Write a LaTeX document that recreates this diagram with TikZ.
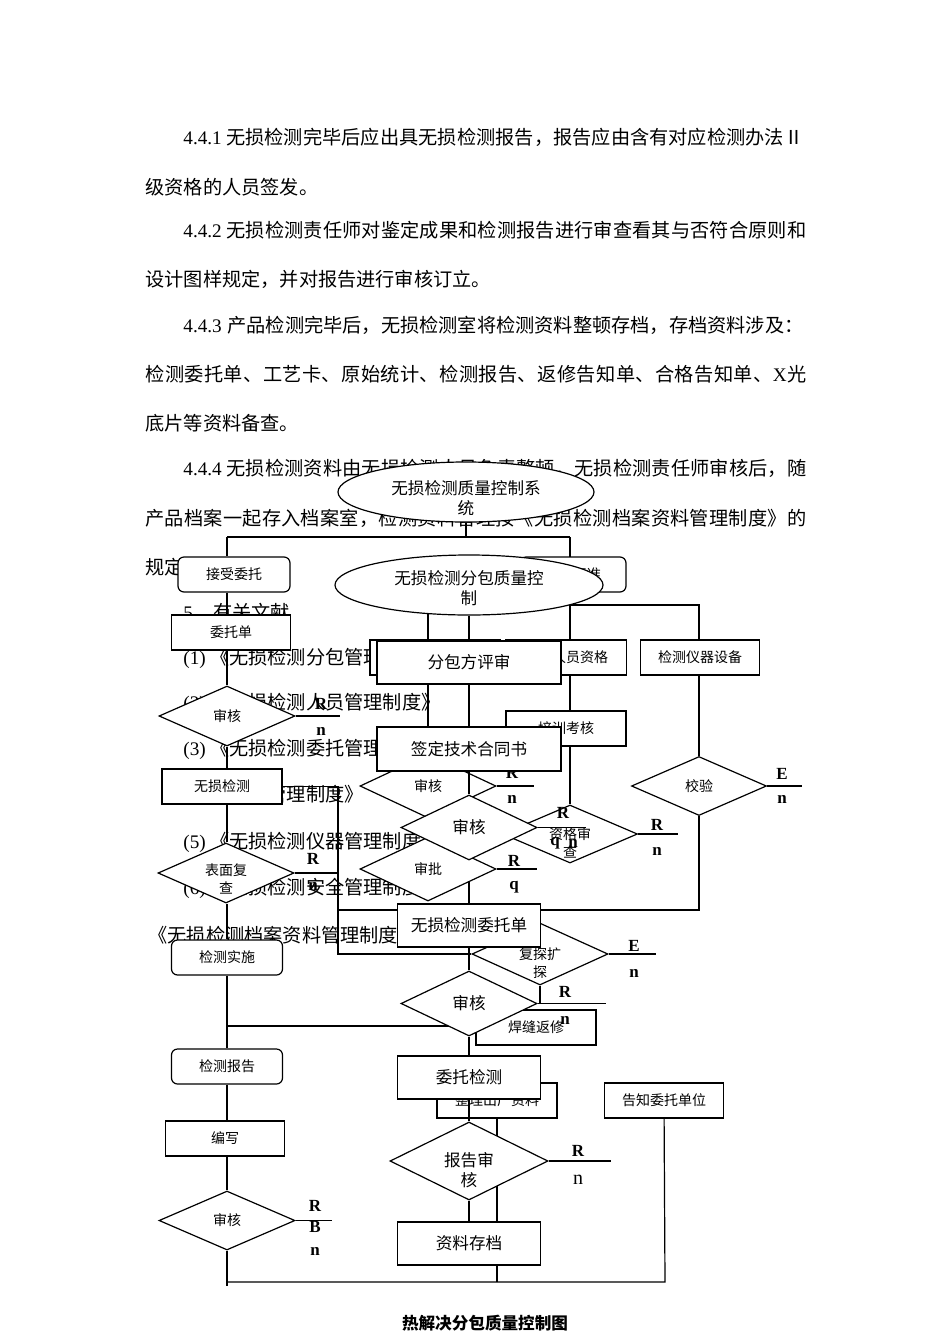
\documentclass[tikz,border=0pt]{standalone}
\usepackage{fontspec}
\setmainfont{Liberation Serif}
\newfontfamily\cjk{Noto Sans CJK SC}
\usetikzlibrary{shapes.geometric}
\pgfdeclarelayer{textlayer}
\pgfdeclarelayer{backnodes}
\pgfdeclarelayer{lines}
\pgfsetlayers{textlayer,backnodes,lines,main}
\newcommand\latf{\rmfamily}
\newcommand\bodyfont{\cjk\fontsize{9.6}{12}\selectfont}
\makeatletter
\def\sp@end{sp@end}
\newcommand\spreadto[2]{\hbox to #1{\sp@start#2\sp@end}}
\def\sp@start#1{{#1}\sp@loop}
\def\sp@loop#1{\ifx\sp@end#1\else\hskip0pt plus 1pt{#1}\expandafter\sp@loop\fi}
\makeatother
\tikzset{
  bt/.style={anchor=west, inner sep=0pt, font=\bodyfont},
  bx/.style={draw, fill=white, line width=0.6pt, inner sep=1pt, align=center},
  rbx/.style={bx, rounded corners=3pt},
  dm/.style={draw, fill=white, diamond, inner sep=0pt, shape aspect=2, line width=0.6pt, align=center},
  el/.style={draw, fill=white, ellipse, inner sep=0pt, line width=0.6pt, align=center},
  fs/.style={font=\cjk\fontsize{7}{10}\selectfont},
  fs2/.style={font=\cjk\fontsize{7}{8.7}\selectfont, align=center},
  fl/.style={font=\cjk\fontsize{8.3}{10}\selectfont},
  fl2/.style={font=\cjk\fontsize{8.3}{10}\selectfont, align=center},
  lb/.style={font=\bfseries\fontsize{8.5}{9}\selectfont, inner sep=0pt},
  cn/.style={line width=0.6pt},
}
\begin{document}
\begin{tikzpicture}[x=0.5pt, y=-0.5pt]
\useasboundingbox (0,0) rectangle (950,1344);

% ---------------- body text ----------------
\begin{pgfonlayer}{textlayer}
\fill[white] (0,0) rectangle (950,1344);
\node[bt] (p1) at (183,137) {\spreadto{310pt}{{\latf 4.4.1}~无损检测完毕后应出具无损检测报告，报告应由含有对应检测办法Ⅱ}};
\node[bt] (p2) at (145,187) {级资格的人员签发。};
\node[bt] (p3) at (183,230) {\spreadto{311.5pt}{{\latf 4.4.2}~无损检测责任师对鉴定成果和检测报告进行审查看其与否符合原则和}};
\node[bt] (p4) at (145,279) {设计图样规定，并对报告进行审核订立。};
\node[bt] (p5) at (183,325) {\spreadto{310pt}{{\latf 4.4.3}~~产品检测完毕后，无损检测室将检测资料整顿存档，存档资料涉及：}};
\node[bt] (p6) at (145,374) {\spreadto{330.5pt}{检测委托单、工艺卡、原始统计、检测报告、返修告知单、合格告知单、{\latf X}光}};
\node[bt] (p7) at (145,423) {底片等资料备查。};
\node[bt] (p8) at (183,468) {\spreadto{311.5pt}{{\latf 4.4.4}~无损检测资料由无损检测人员负责整顿，无损检测责任师审核后，随}};
\node[bt] (p9) at (145,518) {\spreadto{330.5pt}{产品档案一起存入档案室，检测资料管理按《无损检测档案资料管理制度》的}};
\node[bt] (p10) at (145,567) {规定执行。};
\node[bt] (p11) at (183,612) {{\latf 5}\hspace{10pt}有关文献};
\node[bt] (p12) at (183,658) {{\latf (1)} 《无损检测分包管理制度》};
\node[bt] (p13) at (183,703) {{\latf (2)} 《无损检测人员管理制度》};
\node[bt] (p14) at (183,749) {{\latf (3)} 《无损检测委托管理制度》};
\node[bt] (p15) at (183,795) {{\latf (4)} 《工艺管理制度》};
\node[bt] (p16) at (183,842) {{\latf (5)} 《无损检测仪器管理制度》};
\node[bt] (p17) at (183,888) {{\latf (6)} 《无损检测安全管理制度》};
\node[bt] (p18) at (148,935) {《无损检测档案资料管理制度》};
\end{pgfonlayer}

% ---------------- back nodes ----------------
\begin{pgfonlayer}{backnodes}
\node[dm, fs, minimum width=68pt, minimum height=32pt] (sh1m) at (428,786) {审核};
\draw[cn] (sh1m.east) -- ++(37,0) coordinate (q2);
\node[lb] (l2a) at (512,773) {R};
\node[lb] (l2b) at (512,799) {n};
\node[bx, fs, minimum width=60pt, minimum height=17.5pt] (ccz) at (497,1100.5) {整理出厂资料};
\end{pgfonlayer}

% ---------------- main nodes ----------------
\node[el, minimum width=128pt, minimum height=30pt, label={[fl2, yshift=-3pt]center:无损检测质量控制系\\统}] (e1) at (466,492) {};
\node[rbx, fs, minimum width=56pt, minimum height=17.5pt] (jswt) at (234,574.5) {接受委托};
\node[rbx, fs, minimum width=53pt, minimum height=17.5pt] (bzh) at (573,574.5) {检测标准};
\node[el, minimum width=134pt, minimum height=30pt, label={[fl2, yshift=-1.5pt]center:无损检测分包质量控\\制}] (e2) at (469,585) {};
\node[bx, fs, minimum width=59.5pt, minimum height=17.5pt] (wtd) at (231,632.5) {委托单};
\node[dm, fs, minimum width=68pt, minimum height=30pt] (sh1) at (227,716) {审核};
\node[bx, fs, minimum width=65pt, minimum height=17.5pt] (hid) at (435,657.5) {};
\node[bx, fs, minimum width=60.5pt, minimum height=17.5pt] (rzg) at (566,657.5) {检测人员资格};
\node[bx, fl, minimum width=92pt, minimum height=21.5pt] (fbf) at (469,662.5) {分包方评审};
\node[bx, fs, minimum width=60pt, minimum height=17.5pt] (pxkh) at (566,728.5) {培训考核};
\node[bx, fl, minimum width=92pt, minimum height=22pt] (qd) at (469,749) {签定技术合同书};
\node[dm, minimum width=67.5pt, minimum height=29pt, label={[fs2, yshift=-4.5pt]center:资格审\\查}] (zgsc) at (570,834) {};
\node[dm, fs, minimum width=68pt, minimum height=32pt] (sp) at (428,869) {审批};
\node[dm, fl, minimum width=68pt, minimum height=32.5pt] (sh2) at (469,827.5) {审核};
\node[bx, fs, minimum width=60pt, minimum height=17.5pt] (wsjc) at (222,786.5) {无损检测};
\node[dm, minimum width=68pt, minimum height=30pt, label={[fs2, yshift=-3pt]center:表面复\\查}] (bmfc) at (226,873) {};
\node[rbx, fs, minimum width=55.5pt, minimum height=17.5pt] (jcss) at (227,957.5) {检测实施};
\node[rbx, fs, minimum width=55.5pt, minimum height=17.5pt] (jcbg) at (227,1066.5) {检测报告};
\node[bx, fs, minimum width=59.5pt, minimum height=17.5pt] (bxx) at (225,1138.5) {编写};
\node[dm, fs, minimum width=68pt, minimum height=29.5pt] (sh4) at (227,1220.5) {审核};
\node[bx, fs, minimum width=59.5pt, minimum height=17.5pt] (yqsb) at (700,657.5) {检测仪器设备};
\node[dm, fs, minimum width=67.5pt, minimum height=29.5pt] (jy) at (699,786) {校验};
\node[dm, minimum width=68pt, minimum height=31pt, label={[fs2, yshift=-4.5pt]center:复探扩\\探}] (ftkt) at (540,954) {};
\node[bx, fl, minimum width=71.5pt, minimum height=21.5pt] (wtdan) at (469,925.5) {无损检测委托单};
\node[bx, fs, minimum width=60pt, minimum height=17.5pt] (hfx) at (536,1027.5) {焊缝返修};
\node[dm, fl, minimum width=68pt, minimum height=32.5pt] (sh3) at (469,1003.5) {审核};
\node[bx, fl, minimum width=71.5pt, minimum height=21.5pt] (wtjc) at (469,1077.5) {委托检测};
\node[bx, fs, minimum width=59.5pt, minimum height=17.5pt] (gzwt) at (664,1100.5) {告知委托单位};
\node[dm, minimum width=79pt, minimum height=39pt, label={[fl2, yshift=-4.5pt]center:报告审\\核}] (bgsh) at (469,1161) {};
\node[bx, fl, minimum width=71.5pt, minimum height=21.5pt] (zlcd) at (469,1243.5) {资料存档};
\node[font=\cjk\bfseries\fontsize{8.3}{10}\selectfont] (cap) at (485,1323) {热解决分包质量控制图};

% ---------------- connectors ----------------
\coordinate (cL) at (227,0);
\coordinate (tL) at (227,537);
\coordinate (tR) at (570,537);
\coordinate (r1) at (570,605);
\coordinate (r2) at (699,605);
\coordinate (lc1) at (338,786.5);
\coordinate (b910) at (338,910);
\coordinate (m1026) at (227,1026);
\coordinate (bl) at (227,1282);
\coordinate (blx) at (227,1286);
\coordinate (br) at (665,1282);
\coordinate (bb) at (497,1282);

\begin{pgfonlayer}{lines}
\draw[cn] (e1.south) -- (e1.south |- tL);
\draw[cn] (tL) -- (tR);
\draw[cn] (tL) -- (jswt.north -| cL);
\draw[cn] (tR) -- (tR |- rzg.north);
\draw[cn] (r1) -- (r2) -- (yqsb.north -| r2);
\draw[cn] (yqsb.south -| jy) -- (jy);
\draw[cn] (tR |- rzg.south) -- (tR |- pxkh.north);
\draw[cn] (tR |- pxkh.south) -- (zgsc.north);
\draw[cn] (e2.center -| sh1m) -- (sh1m.north);
\draw[cn] (e2) -- (fbf) -- (qd) -- (sh2) -- (wtdan) -- (sh3) -- (wtjc) -- (bgsh) -- (zlcd);
\draw[cn] (jswt.south -| cL) -- (wtd.north -| cL);
\draw[cn] (wtd.south -| cL) -- (sh1.north);
\draw[cn] (sh1.south) -- (wsjc.north -| cL);
\draw[cn] (wsjc.south -| cL) -- (bmfc.north -| cL);
\draw[cn] (bmfc.south -| cL) -- (jcss.north -| cL);
\draw[cn] (jcss.south -| cL) -- (jcbg.north -| cL);
\draw[cn] (jcbg.south -| cL) -- (bxx.north -| cL);
\draw[cn] (bxx.south -| cL) -- (sh4.north);
\draw[cn] (sh4.south) -- (blx);
\draw[cn] (wsjc) -- (lc1) -- (lc1 |- ftkt) -- (ftkt);
\draw[cn] (jy) -- (jy |- b910) -- (b910);
\draw[cn] (ftkt) -- (ftkt |- sh3) -- (sh3);
\draw[cn] (m1026) -- (m1026 -| sh3);
\draw[cn] (ccz) -- (bb);
\draw[cn] (bl) -- (br) -- (gzwt);
\end{pgfonlayer}

% ---------------- R / n marks ----------------
\draw[cn] (sh1.east) -- ++(44,0) coordinate (q1);
\node[lb] (l1a) at (321,704) {R};
\node[lb] (l1b) at (321,731) {n};
\draw[cn] (sh2.east) -- ++(48,0) coordinate (q3);
\node[lb] (l3a) at (563,813) {R};
\node[lb] (l3b) at (555,843) {q};
\node[lb] (l3c) at (573,843) {n};
\draw[cn] (zgsc.east) -- ++(40,0) coordinate (q4);
\node[lb] (l4a) at (657,825) {R};
\node[lb] (l4b) at (657,851) {n};
\draw[cn] (sp.east) -- ++(40,0) coordinate (q5);
\node[lb] (l5a) at (514,861) {R};
\node[lb] (l5b) at (514,887) {q};
\draw[cn] (jy.east) -- ++(35,0) coordinate (q6);
\node[lb] (l6a) at (782,774) {E};
\node[lb] (l6b) at (782,799) {n};
\draw[cn] (bmfc.east) -- ++(42,0) coordinate (q7);
\node[lb] (l7a) at (313,859) {R};
\node[lb] (l7b) at (313,886) {n};
\draw[cn] (ftkt.east) -- ++(47,0) coordinate (q8);
\node[lb] (l8a) at (634,946) {E};
\node[lb] (l8b) at (634,973) {n};
\draw[cn] (sh3.east) -- ++(68,0) coordinate (q9);
\node[lb] (l9a) at (565,992) {R};
\node[lb] (l9b) at (565,1020) {n};
\draw[cn] (bgsh.east) -- ++(62,0) coordinate (q10);
\node[lb] (l10a) at (578,1151) {R};
\node[font=\fontsize{10}{11}\selectfont, inner sep=0pt] (l10b) at (578,1180) {n};
\draw[cn] (sh4.east) -- ++(36,0) coordinate (q11);
\node[lb] (l11a) at (315,1206) {R};
\node[lb] (l11b) at (315,1227) {B};
\node[lb] (l11c) at (315,1251) {n};
\end{tikzpicture}
\end{document}
